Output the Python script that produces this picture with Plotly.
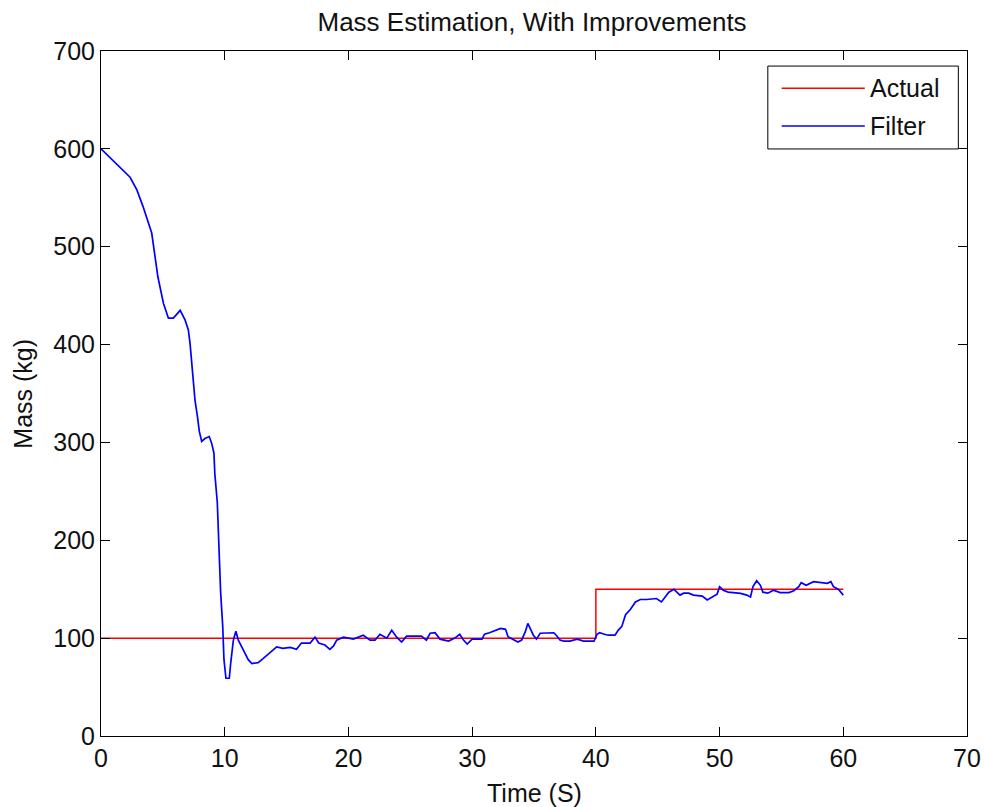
import plotly.graph_objects as go

# Actual mass (step)
actual_t = [0, 40, 60]
actual_mass = [100, 150, 150]

# Filter estimate
filter_t = [0, 0.5, 1, 1.5, 2, 2.35, 2.9, 3.4, 4.1, 4.6, 5.05, 5.45, 5.85, 6.1, 6.4, 6.8,
            7.06, 7.2, 7.33, 7.47, 7.6, 7.8, 7.95, 8.14, 8.4, 8.75, 8.95, 9.13, 9.2, 9.4,
            9.54, 9.67, 9.84, 9.94, 10.1, 10.37, 10.48, 10.7, 10.9, 11.1, 11.5, 11.9, 12.2,
            12.7, 13.1, 13.7, 14.2, 14.7, 15.3, 15.8, 16.2, 16.9, 17.3, 17.6, 18.1, 18.5,
            18.8, 19.05, 19.6, 20.4, 21.2, 21.75, 22.15, 22.55, 23.1, 23.5, 23.9, 24.3,
            24.7, 25.9, 26.3, 26.6, 27.0, 27.4, 28.1, 28.6, 29.0, 29.3, 29.6, 30.0, 30.8,
            31.0, 31.4, 32.3, 32.7, 32.9, 33.3, 33.7, 34.0, 34.3, 34.5, 34.7, 34.95, 35.2,
            35.5, 36.6, 36.8, 37.1, 37.4, 37.9, 38.5, 39.0, 39.5, 39.85, 40.1, 40.3, 40.7,
            41.0, 41.55, 41.8, 42.1, 42.4, 42.8, 43.2, 43.6, 44.1, 44.9, 45.3, 45.6, 45.9,
            46.3, 46.8, 47.1, 47.5, 47.9, 48.6, 49.0, 49.4, 49.8, 50.0, 50.3, 50.7, 51.1,
            51.7, 52.2, 52.5, 52.7, 53.0, 53.3, 53.5, 53.9, 54.35, 54.9, 55.6, 56.0, 56.4,
            56.6, 57.0, 57.6, 58.1, 58.7, 59.0, 59.2, 59.6, 60.0]
filter_mass = [600, 594, 587, 581, 575, 571, 558, 541, 514, 469, 442, 427, 427, 431, 435, 425,
               415, 401, 384, 365, 343, 326, 311, 301, 304, 306, 299, 289, 268, 239,
               192, 147, 112, 78, 59, 59, 74, 98, 107, 98, 88, 78, 74,
               75, 79, 86, 91, 89.5, 90.6, 88.6, 95, 95, 101, 95, 93, 88.6,
               92, 98, 101, 99, 103, 98, 98, 104, 100, 108, 101, 96,
               102, 102, 98, 105, 105.5, 99, 97, 100, 104, 98, 94, 99, 99,
               104, 105.5, 110, 109, 101.5, 99, 96, 98, 106.6, 115, 109, 103, 99,
               105, 105.5, 103, 98, 97, 97, 99, 97, 97, 97, 104, 105.5, 104,
               103, 103, 108, 112, 124, 129.5, 137, 139.5, 139.5, 140.5, 137, 142, 147,
               150, 144, 146, 146, 144, 143, 139, 141.7, 145, 152.6, 149, 147, 146.5,
               145.7, 144, 142, 152.6, 158.7, 154, 147, 146, 149, 146.5, 146.5, 148.5, 152.6,
               156.7, 154, 157.7, 156.7, 156, 157.7, 152.6, 150, 144]

x_ticks = [0, 10, 20, 30, 40, 50, 60, 70]
y_ticks = [0, 100, 200, 300, 400, 500, 600, 700]
legend_names = ["Actual", "Filter"]
colors = ["#ff0000", "#0000ff"]

FONT = "Liberation Sans, Arial, sans-serif"
TXT = "#111111"

fig = go.Figure()
fig.add_trace(go.Scatter(x=actual_t, y=actual_mass, mode="lines", line_shape="hv",
                         line=dict(color=colors[0], width=1.5), name=legend_names[0],
                         showlegend=False))
fig.add_trace(go.Scatter(x=filter_t, y=filter_mass, mode="lines",
                         line=dict(color=colors[1], width=1.7), name=legend_names[1],
                         showlegend=False))

axis_common = dict(showgrid=False, zeroline=False, showline=True, linecolor="black",
                   linewidth=1, mirror="ticks", ticks="inside", ticklen=9,
                   tickcolor="black", tickwidth=1, automargin=False,
                   tickfont=dict(family=FONT, size=25, color=TXT))

fig.update_xaxes(range=[0, 70], tickvals=x_ticks, ticktext=[str(v) for v in x_ticks],
                 **axis_common)
fig.update_yaxes(range=[0, 700], tickvals=y_ticks, ticktext=[str(v) for v in y_ticks],
                 **axis_common)

# Legend drawn in paper coordinates
shapes = [dict(type="rect", xref="paper", yref="paper", x0=0.770, x1=0.990, y0=0.857, y1=0.978,
               line=dict(color="black", width=1), fillcolor="white", layer="above")]
annotations = [
    dict(text="Time (S)", xref="paper", yref="paper", x=0.5, y=-0.0835,
         xanchor="center", yanchor="middle", showarrow=False,
         font=dict(family=FONT, size=25, color=TXT)),
    dict(text="Mass (kg)", xref="paper", yref="paper", x=-0.091, y=0.5, textangle=-90,
         xanchor="center", yanchor="middle", showarrow=False,
         font=dict(family=FONT, size=25, color=TXT)),
]
leg_y = [0.9455, 0.8905]
for name, col, yy in zip(legend_names, colors, leg_y):
    shapes.append(dict(type="line", xref="paper", yref="paper", x0=0.786, x1=0.882, y0=yy, y1=yy,
                       line=dict(color=col, width=1.5), layer="above"))
    annotations.append(dict(text=name, xref="paper", yref="paper", x=0.886, y=yy,
                            xanchor="left", yanchor="middle", showarrow=False,
                            font=dict(family=FONT, size=25, color=TXT)))

fig.update_layout(
    width=984, height=807,
    margin=dict(l=101, r=17, t=51, b=71),
    paper_bgcolor="white", plot_bgcolor="white",
    title=dict(text="Mass Estimation, With Improvements", x=0.5407, xanchor="center",
               y=0.973, yanchor="middle", font=dict(family=FONT, size=26, color=TXT)),
    shapes=shapes, annotations=annotations,
    showlegend=False,
)

fig.write_html("out.html")
